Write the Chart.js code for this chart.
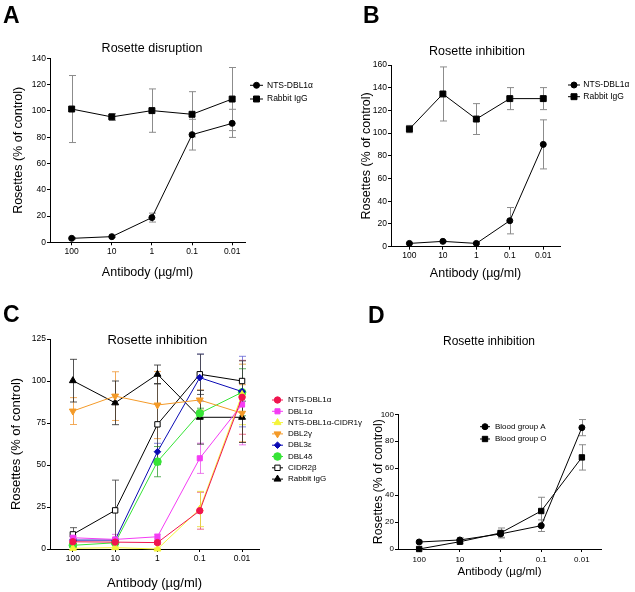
<!DOCTYPE html>
<html>
<head>
<meta charset="utf-8">
<script src="https://cdn.jsdelivr.net/npm/chart.js@4/dist/chart.umd.min.js"></script>
<style>
  html, body { margin: 0; padding: 0; background: #fff; }
  #wrap { position: relative; width: 635px; height: 592px; }
  #wrap canvas { position: absolute; left: 0; top: 0; }
</style>
</head>
<body>
<div id="wrap">
  <canvas id="chartA" width="635" height="592"></canvas>
  <canvas id="chartB" width="635" height="592"></canvas>
  <canvas id="chartC" width="635" height="592"></canvas>
  <canvas id="chartD" width="635" height="592"></canvas>
</div>
<script>
const FONT = "'Liberation Sans', Arial, sans-serif";

// x categories (antibody concentration)
const doseLabels = ["100", "10", "1", "0.1", "0.01"];

// A - rosette disruption
const aNts = [3.0, 4.3, 18.8, 81.9, 90.5];
const aNtsErr = [0.6, 0.6, 3.4, 11.7, 10.7];
const aIgg = [101.4, 95.4, 100.2, 97.4, 109.0];
const aIggErr = [25.5, 2.6, 16.5, 17.2, 24.0];

// B - rosette inhibition
const bNts = [2.9, 4.7, 2.9, 22.9, 90.1];
const bNtsErr = [0.5, 0.5, 0.8, 11.6, 21.6];
const bIgg = [103.6, 134.5, 112.4, 130.4, 130.4];
const bIggErr = [3.2, 23.8, 13.6, 9.7, 9.7];

// C - rosette inhibition, domain antibodies
const cNames = ["NTS-DBL1\u03b1", "DBL1\u03b1", "NTS-DBL1\u03b1-CIDR1\u03b3", "DBL2\u03b3", "DBL3\u03b5", "DBL4\u03b4", "CIDR2\u03b2", "Rabbit IgG"];
const cNtsDbl1 = [4.3, 4.1, 3.8, 22.8, 90.3];
const cNtsDbl1Err = [1, 1, 1, 11, 22];
const cDbl1 = [6.7, 5.7, 7.3, 54, 86];
const cDbl1Err = [1, 3, 1.5, 9, 24];
const cNtsCidr = [0.4, 0.8, 0, 23.8, 92];
const cNtsCidrErr = [0.5, 0.5, 0.5, 10.5, 18];
const cDbl2 = [82.1, 91, 85.7, 88.7, 80.8];
const cDbl2Err = [8, 14.5, 20, 6, 17];
const cDbl3 = [5.3, 5.3, 57.9, 102, 93.7];
const cDbl3Err = [1, 1, 5, 14, 21];
const cDbl4 = [2.2, 3.7, 52, 80.8, 93.3];
const cDbl4Err = [1, 1, 9, 3, 14];
const cCidr2 = [8.7, 23, 74.2, 104, 100];
const cCidr2Err = [4, 18, 24, 12, 12];
const cIgg = [100.2, 87, 104, 78.4, 78.4];
const cIggErr = [12.7, 13, 5.5, 16, 15];

// D - blood groups
const dGroupA = [5.2, 6.7, 11.2, 17.3, 90.1];
const dGroupAErr = [0.8, 1.5, 2.5, 4.3, 6];
const dGroupO = [0, 5.4, 11.9, 28.2, 68];
const dGroupOErr = [0.5, 1.5, 3.7, 10.2, 9.4];


function pts(values) {
    return values.map((v, i) => ({ x: i, y: v }));
}

// error bars drawn from the y scale
const errorBars = {
    id: "errorBars",
    beforeDatasetsDraw(chart) {
        const ctx = chart.ctx;
        const ys = chart.scales.y;
        chart.data.datasets.forEach((ds, i) => {
            if (!ds.errors) return;
            const meta = chart.getDatasetMeta(i);
            ctx.save();
            ctx.strokeStyle = ds.errorColor || "#8c8c8c";
            ctx.lineWidth = 1;
            meta.data.forEach((pt, j) => {
                const e = ds.errors[j];
                if (!e) return;
                const v = ds.data[j].y;
                const x = Math.round(pt.x) + 0.5;
                const top = ys.getPixelForValue(v + e);
                const bot = ys.getPixelForValue(Math.max(v - e, 0));
                ctx.beginPath();
                ctx.moveTo(x, top);
                ctx.lineTo(x, bot);
                ctx.moveTo(x - 3.5, top);
                ctx.lineTo(x + 3.5, top);
                ctx.moveTo(x - 3.5, bot);
                ctx.lineTo(x + 3.5, bot);
                ctx.stroke();
            });
            ctx.restore();
        });
    }
};

// panel letter, title and legend
const panelText = {
    id: "panelText",
    afterDraw(chart, args, o) {
        const ctx = chart.ctx;
        ctx.save();
        ctx.fillStyle = "#000";
        ctx.textAlign = "left";
        ctx.textBaseline = "alphabetic";
        ctx.font = "bold 23px " + FONT;
        ctx.fillText(o.letter, o.letterX, o.letterY);

        ctx.textAlign = "center";
        ctx.textBaseline = "middle";
        ctx.font = o.titleSize + "px " + FONT;
        ctx.fillText(o.title, o.titleX, o.titleY);

        ctx.textAlign = "left";
        ctx.font = o.legendSize + "px " + FONT;
        chart.data.datasets.forEach((ds, i) => {
            const y = o.legendY + i * o.legendDy;
            ctx.strokeStyle = ds.borderColor;
            ctx.lineWidth = 1;
            ctx.beginPath();
            ctx.moveTo(o.legendX - o.legendW / 2, y);
            ctx.lineTo(o.legendX + o.legendW / 2, y);
            ctx.stroke();
            ctx.fillStyle = ds.pointBackgroundColor;
            ctx.strokeStyle = ds.pointBorderColor;
            Chart.helpers.drawPoint(ctx, {
                pointStyle: ds.pointStyle,
                rotation: ds.pointRotation || 0,
                radius: ds.pointRadius,
                borderWidth: 1
            }, o.legendX, y);
            ctx.fillStyle = "#000";
            ctx.fillText(ds.label, o.legendTextX, y);
        });
        ctx.restore();
    }
};

function series(label, values, errors, style, color, radius, extra) {
    return Object.assign({
        label: label,
        data: pts(values),
        errors: errors,
        borderColor: color,
        borderWidth: 1,
        pointStyle: style,
        pointRadius: radius,
        pointHoverRadius: radius,
        pointBackgroundColor: color,
        pointBorderColor: color,
        pointBorderWidth: 1,
        clip: false
    }, extra || {});
}

// g: plot frame in page pixels and text sizes
function makeOptions(g, text) {
    const lhY = g.yTitleSize * 1.2;
    const lhX = g.xTitleSize * 1.2;
    const padLeft = g.yTitleX - lhY / 2;
    const xBottom = g.xTitleY + lhX / 2;
    const tickFont = { family: FONT, size: g.tickSize };
    return {
        responsive: false,
        animation: false,
        devicePixelRatio: 1,
        layout: {
            padding: { left: padLeft, right: 635 - g.r, top: g.t, bottom: 592 - xBottom }
        },
        plugins: {
            legend: { display: false },
            tooltip: { enabled: false },
            panelText: text
        },
        scales: {
            x: {
                type: "linear",
                min: g.xMin,
                max: g.xMax,
                afterBuildTicks: s => { s.ticks = doseLabels.map((l, i) => ({ value: i })); },
                afterFit: s => { s.height = xBottom - g.b; },
                ticks: {
                    autoSkip: false,
                    color: "#000",
                    font: tickFont,
                    padding: g.xTickPad,
                    maxRotation: 0,
                    callback: v => doseLabels[v]
                },
                grid: { display: true, drawOnChartArea: false, tickLength: 3, color: "#000" },
                border: { color: "#000", width: 1 },
                title: {
                    display: true,
                    text: "Antibody (\u00b5g/ml)",
                    color: "#000",
                    font: { family: FONT, size: g.xTitleSize },
                    padding: 0
                }
            },
            y: {
                min: 0,
                max: g.yMax,
                afterFit: s => { s.width = g.l - padLeft; },
                ticks: { stepSize: g.yStep, color: "#000", font: tickFont, padding: 1 },
                grid: { display: true, drawOnChartArea: false, tickLength: 3, color: "#000" },
                border: { color: "#000", width: 1 },
                title: {
                    display: true,
                    text: "Rosettes (% of control)",
                    color: "#000",
                    font: { family: FONT, size: g.yTitleSize },
                    padding: 0
                }
            }
        }
    };
}

new Chart("chartA", {
    type: "line",
    data: {
        datasets: [
            series("NTS-DBL1\u03b1", aNts, aNtsErr, "circle", "#000", 3),
            series("Rabbit IgG", aIgg, aIggErr, "rect", "#000", 4.2)
        ]
    },
    options: makeOptions(
        { l: 50, r: 245, t: 58.3, b: 242.3, xMin: -0.54, xMax: 4.32, yMax: 140, yStep: 20,
          yTitleX: 19, yTitleSize: 12.5, xTitleY: 272.7, xTitleSize: 12.5, tickSize: 8.5, xTickPad: 1 },
        { letter: "A", letterX: 3, letterY: 22.5, title: "Rosette disruption", titleX: 152, titleY: 48.3, titleSize: 12.5,
          legendX: 256.5, legendW: 13, legendTextX: 267, legendY: 85.3, legendDy: 13.7, legendSize: 8.5 }
    ),
    plugins: [errorBars, panelText]
});

new Chart("chartB", {
    type: "line",
    data: {
        datasets: [
            series("NTS-DBL1\u03b1", bNts, bNtsErr, "circle", "#000", 3),
            series("Rabbit IgG", bIgg, bIggErr, "rect", "#000", 4.2)
        ]
    },
    options: makeOptions(
        { l: 391, r: 560, t: 65, b: 246.7, xMin: -0.55, xMax: 4.5, yMax: 160, yStep: 20,
          yTitleX: 366.7, yTitleSize: 12.5, xTitleY: 273.3, xTitleSize: 12.5, tickSize: 8.5, xTickPad: 1 },
        { letter: "B", letterX: 363, letterY: 22.5, title: "Rosette inhibition", titleX: 477, titleY: 51.7, titleSize: 12.5,
          legendX: 574, legendW: 12, legendTextX: 583.3, legendY: 85, legendDy: 11.7, legendSize: 8.5 }
    ),
    plugins: [errorBars, panelText]
});

new Chart("chartC", {
    type: "line",
    data: {
        datasets: [
            series(cNames[0], cNtsDbl1, cNtsDbl1Err, "circle", "#f0144f", 3.2, { errorColor: "rgba(230,60,100,0.75)" }),
            series(cNames[1], cDbl1, cDbl1Err, "rect", "#f43cf4", 3.6, { errorColor: "rgba(230,80,230,0.75)" }),
            series(cNames[2], cNtsCidr, cNtsCidrErr, "triangle", "#f4f43a", 4, { errorColor: "rgba(230,225,60,0.85)" }),
            series(cNames[3], cDbl2, cDbl2Err, "triangle", "#f49a28", 4, { pointRotation: 180, errorColor: "rgba(240,150,50,0.8)" }),
            series(cNames[4], cDbl3, cDbl3Err, "rectRot", "#0a0ab4", 3.3, { errorColor: "rgba(90,90,210,0.75)" }),
            series(cNames[5], cDbl4, cDbl4Err, "circle", "#36e436", 3.8, { errorColor: "rgba(40,150,40,0.75)" }),
            series(cNames[6], cCidr2, cCidr2Err, "rect", "#000", 3.8, { pointBackgroundColor: "#fff", errorColor: "rgba(60,60,60,0.8)" }),
            series(cNames[7], cIgg, cIggErr, "triangle", "#000", 4, { errorColor: "rgba(40,40,40,0.8)" })
        ]
    },
    options: makeOptions(
        { l: 50, r: 259, t: 339, b: 549, xMin: -0.54, xMax: 4.4, yMax: 125, yStep: 25,
          yTitleX: 16.7, yTitleSize: 13, xTitleY: 583.3, xTitleSize: 13, tickSize: 8.5, xTickPad: 1.5 },
        { letter: "C", letterX: 3, letterY: 322, title: "Rosette inhibition", titleX: 157.3, titleY: 340, titleSize: 13,
          legendX: 277.5, legendW: 11, legendTextX: 288, legendY: 400, legendDy: 11.3, legendSize: 8 }
    ),
    plugins: [errorBars, panelText]
});

new Chart("chartD", {
    type: "line",
    data: {
        datasets: [
            series("Blood group A", dGroupA, dGroupAErr, "circle", "#000", 3),
            series("Blood group O", dGroupO, dGroupOErr, "rect", "#000", 3.8)
        ]
    },
    options: makeOptions(
        { l: 398, r: 601, t: 414.3, b: 549, xMin: -0.52, xMax: 4.47, yMax: 100, yStep: 20,
          yTitleX: 379, yTitleSize: 12.3, xTitleY: 571.5, xTitleSize: 11.5, tickSize: 8, xTickPad: 2.5 },
        { letter: "D", letterX: 368, letterY: 323, title: "Rosette inhibition", titleX: 489, titleY: 341.7, titleSize: 12,
          legendX: 485, legendW: 10, legendTextX: 495, legendY: 426.7, legendDy: 12.3, legendSize: 8 }
    ),
    plugins: [errorBars, panelText]
});
</script>
</body>
</html>
